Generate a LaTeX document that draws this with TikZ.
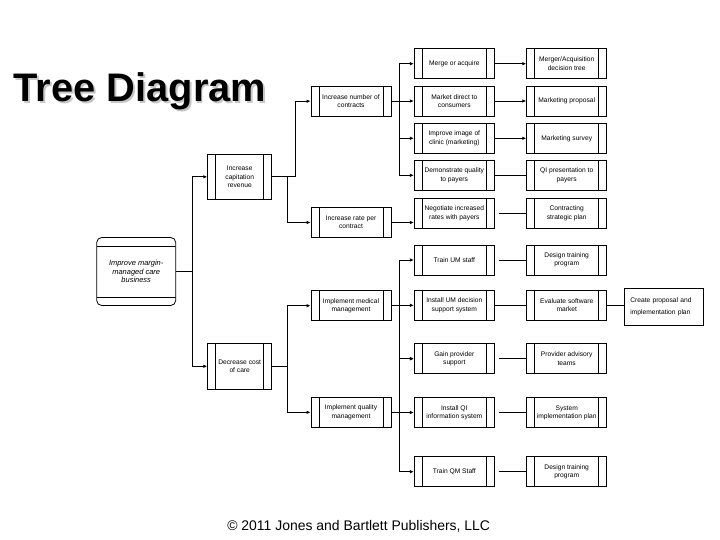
\documentclass[tikz,border=0pt]{standalone}
\usepackage{fontspec}
\setmainfont{Liberation Sans}
\usetikzlibrary{arrows.meta}

\begin{document}
\begin{tikzpicture}[
    x=1bp, y=-1bp,
    every node/.style={font=\fontsize{6.7}{8.3}\selectfont},
    proc/.style={draw, line width=0.8bp, minimum width=80bp, minimum height=30bp,
      inner sep=0pt, align=center,
      path picture={
        \draw[line width=0.8bp] ([xshift=8bp]path picture bounding box.south west) -- ([xshift=8bp]path picture bounding box.north west);
        \draw[line width=0.8bp] ([xshift=-8bp]path picture bounding box.south east) -- ([xshift=-8bp]path picture bounding box.north east);
      }},
    goal/.style={draw, line width=0.8bp, rounded corners=5bp, minimum width=79bp, minimum height=68bp,
      inner sep=0pt, align=center, font=\fontsize{7.5}{8.7}\selectfont\itshape,
      path picture={
        \draw[line width=0.8bp] ([yshift=-9bp]path picture bounding box.north west) -- ([yshift=-9bp]path picture bounding box.north east);
        \draw[line width=0.8bp] ([yshift=8bp]path picture bounding box.south west) -- ([yshift=8bp]path picture bounding box.south east);
      }},
    plan/.style={draw, line width=0.8bp, minimum height=37bp, text width=67bp, inner xsep=6bp,
      align=left, font=\fontsize{6.7}{11.7}\selectfont},
    arr/.style={-{Latex[length=4bp,width=3.5bp]}, line width=0.8bp},
    lnk/.style={line width=0.8bp},
    gap/.style={lnk, shorten <=4bp}
]
\fill[white] (0,0) rectangle (720,540);
\useasboundingbox (0,0) rectangle (720,540);

% Title and footer
\node[font=\fontsize{40}{48}\selectfont\bfseries, anchor=base] (title) at (140,101.7)
  {\rlap{\hspace{1.8bp}\raisebox{-1.8bp}{\color{black!22}Tree Diagram}}Tree Diagram};
\node[font=\fontsize{14}{16}\selectfont, anchor=base] (footer) at (358.7,530.7) {© 2011 Jones and Bartlett Publishers, LLC};

% Goal
\node[goal] (root) at (136.2,271.5) {Improve margin-\\managed care\\business};

% Level 1
\node[proc, minimum width=64bp, minimum height=45bp] (capit) at (239.7,176.8) {Increase\\capitation\\revenue};
\node[proc, minimum width=64bp, minimum height=46bp] (cost) at (239.7,366.3) {Decrease cost\\of care};

% Level 2
\node[proc] (number) at (351,101.2) {Increase number of\\contracts};
\node[proc] (rate) at (351,222.5) {Increase rate per\\contract};
\node[proc] (medical) at (351,305.7) {Implement medical\\management};
\node[proc] (quality) at (351,412.3) {Implement quality\\management};

% Level 3
\node[proc] (merge) at (454.3,63.7) {Merge or acquire};
\node[proc] (market) at (454.3,101) {Market direct to\\consumers};
\node[proc] (image) at (454.3,138.3) {Improve image of\\clinic (marketing)};
\node[proc] (demo) at (454.3,175.3) {Demonstrate quality\\to payers};
\node[proc] (negot) at (454.3,213.3) {Negotiate increased\\rates with payers};
\node[proc] (trainum) at (454.3,260) {Train UM staff};
\node[proc] (installum) at (454.3,305.3) {Install UM decision\\support system};
\node[proc] (gain) at (454.3,358.7) {Gain provider\\support};
\node[proc] (installqi) at (454.3,412.5) {Install QI\\information system};
\node[proc] (trainqm) at (454.3,471.7) {Train QM Staff};

% Level 4
\node[proc] (mergetree) at (566.7,63.7) {Merger/Acquisition\\decision tree};
\node[proc] (mproposal) at (566.7,101) {Marketing proposal};
\node[proc] (msurvey) at (566.7,138.3) {Marketing survey};
\node[proc] (qipres) at (566.7,175.3) {QI presentation to\\payers};
\node[proc] (contract) at (566.7,213.3) {Contracting\\strategic plan};
\node[proc] (designum) at (566.7,260) {Design training\\program};
\node[proc] (evaluate) at (566.7,305.3) {Evaluate software\\market};
\node[proc] (advisory) at (566.7,358.7) {Provider advisory\\teams};
\node[proc] (sysplan) at (566.7,412.5) {System\\implementation plan};
\node[proc] (designqm) at (566.7,471.7) {Design training\\program};

% Level 5
\node[plan] (create) at (663.8,307) {Create proposal and\\implementation plan};

% Connectors
\draw[arr] (root.east) -- ++(15.8,0) |- (capit.west);
\draw[arr] (root.east) -- ++(15.8,0) |- (cost.west);
\draw[arr] (capit.east) -- ++(23.3,0) |- (number.west);
\draw[arr] (capit.east) -- ++(15.3,0) |- (rate.west);
\draw[arr] (cost.east) -- ++(15.6,0) |- (medical.west);
\draw[arr] (cost.east) -- ++(15.6,0) |- (quality.west);
\foreach \t in {merge, market, image, demo}
  \draw[arr] (number.east) -- ++(7.5,0) |- (\t.west);
\draw[arr] (rate.east) -- (rate.east -| negot.west);
\foreach \t in {trainum, installum, gain}
  \draw[arr] (medical.east) -- ++(7.5,0) |- (\t.west);
\foreach \t in {gain, installqi, trainqm}
  \draw[arr] (quality.east) -- ++(7.5,0) |- (\t.west);
\draw[arr] (merge) -- (mergetree);
\draw[arr] (market) -- (mproposal);
\draw[arr] (image) -- (msurvey);
\draw[lnk] (demo) -- (qipres);
\draw[gap] (negot) -- (contract);
\draw[gap] (trainum) -- (designum);
\draw[lnk] (installum) -- (evaluate);
\draw[gap] (gain) -- (advisory);
\draw[gap] (installqi) -- (sysplan);
\draw[gap] (trainqm) -- (designqm);
\draw[lnk] (evaluate) -- (evaluate -| create.west);
\end{tikzpicture}
\end{document}
